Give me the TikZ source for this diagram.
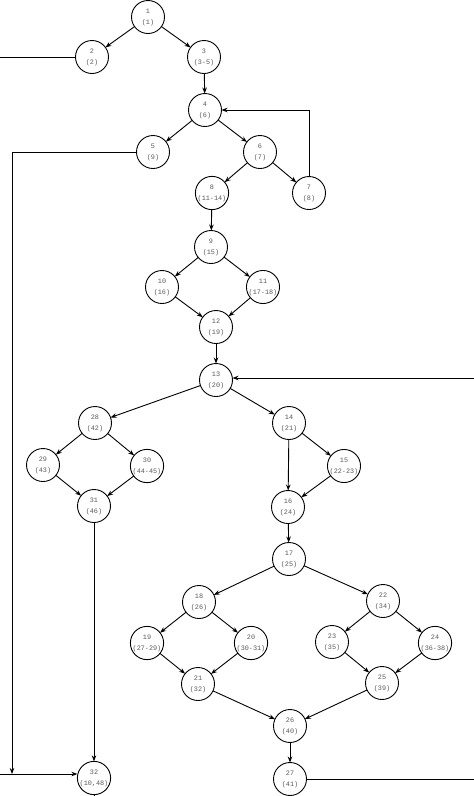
\documentclass[tikz,border=0pt]{standalone}
\usepackage{fontspec}
\setmonofont{Liberation Mono}
\usetikzlibrary{arrows.meta,calc}

\begin{document}
\begin{tikzpicture}[x=1pt,y=-1pt,line width=0.9pt,>={Stealth[length=6pt,width=4.5pt]},
    every node/.style={inner sep=0,outer sep=0},
    blk/.style={circle,draw,minimum size=33pt,align=center,
        font=\ttfamily\fontsize{6.8}{11}\selectfont,text=black!65}]
    \useasboundingbox (0,0) rectangle (474,796);
    \node[blk](b1)  at (148,17)  {1\\(1)};
    \node[blk](b2)  at (92,57)   {2\\(2)};
    \node[blk](b3)  at (204,57)  {3\\(3-5)};
    \node[blk](b4)  at (205,110) {4\\(6)};
    \node[blk](b5)  at (153,152) {5\\(9)};
    \node[blk](b6)  at (260,152) {6\\(7)};
    \node[blk](b7)  at (309,193) {7\\(8)};
    \node[blk](b8)  at (212,193) {8\\(11-14)};
    \node[blk](b9)  at (211,247) {9\\(15)};
    \node[blk](b10) at (162,287) {10\\(16)};
    \node[blk](b11) at (263,287) {11\\(17-18)};
    \node[blk](b12) at (216,327) {12\\(19)};
    \node[blk](b13) at (216,380) {13\\(20)};
    \node[blk](b14) at (289,423) {14\\(21)};
    \node[blk](b15) at (344,466) {15\\(22-23)};
    \node[blk](b16) at (288,507) {16\\(24)};
    \node[blk](b17) at (289,559) {17\\(25)};
    \node[blk](b18) at (199,602) {18\\(26)};
    \node[blk](b19) at (147,643) {19\\(27-29)};
    \node[blk](b20) at (251,643) {20\\(30-31)};
    \node[blk](b21) at (198,684) {21\\(32)};
    \node[blk](b22) at (383,601) {22\\(34)};
    \node[blk](b23) at (332,642) {23\\(35)};
    \node[blk](b24) at (435,643) {24\\(36-38)};
    \node[blk](b25) at (382,683) {25\\(39)};
    \node[blk](b26) at (290,726) {26\\(40)};
    \node[blk](b27) at (290,779) {27\\(41)};
    \node[blk](b28) at (95,423)  {28\\(42)};
    \node[blk](b29) at (43,465)  {29\\(43)};
    \node[blk](b30) at (147,466) {30\\(44-45)};
    \node[blk](b31) at (94,506)  {31\\(46)};
    \node[blk](b32) at (94,778)  {32\\(10,48)};
    % loose ends at the borders
    \coordinate(top1)  at (148,-20);
    \coordinate(out2)  at (0,57);
    \coordinate(low5)  at (12,774);
    \coordinate(in32)  at (0,774);
    \coordinate(in13)  at (480,378);
    \coordinate(out27) at (480,779);
    \coordinate(bot27) at (290,820);
    \coordinate(bot32) at (94,820);
    \draw[->] (top1)--(b1);
    \draw[->] (b1)--(b2);
    \draw[->] (b1)--(b3);
    \draw (b2)--(out2);
    \draw[->] (b3)--(b4);
    \draw[->] (b4)--(b5);
    \draw[->] (b4)--(b6);
    \draw[->] (b6)--(b8);
    \draw[->] (b6)--(b7);
    \draw[->] (b7) |- (b4);
    \draw[->] (b5) -| (low5);
    \draw[->] (in32)--(in32 -| b32.west);
    \draw[->] (b8)--(b9);
    \draw[->] (b9)--(b10);
    \draw[->] (b9)--(b11);
    \draw[->] (b10)--(b12);
    \draw[->] (b11)--(b12);
    \draw[->] (b12)--(b13);
    \draw[->] (in13)--(in13 -| b13.east);
    \draw[->] (b13)--(b28);
    \draw[->] (b13)--(b14);
    \draw[->] (b28)--(b29);
    \draw[->] (b28)--(b30);
    \draw[->] (b29)--(b31);
    \draw[->] (b30)--(b31);
    \draw[->] (b31)--(b32);
    \draw[->] (b14)--(b16);
    \draw[->] (b14)--(b15);
    \draw[->] (b15)--(b16);
    \draw[->] (b16)--(b17);
    \draw[->] (b17)--(b18);
    \draw[->] (b17)--(b22);
    \draw[->] (b18)--(b19);
    \draw[->] (b18)--(b20);
    \draw[->] (b19)--(b21);
    \draw[->] (b20)--(b21);
    \draw[->] (b22)--(b23);
    \draw[->] (b22)--(b24);
    \draw[->] (b23)--(b25);
    \draw[->] (b24)--(b25);
    \draw[->] (b21)--(b26);
    \draw[->] (b25)--(b26);
    \draw[->] (b26)--(b27);
    \draw (b27)--(out27);
    \draw (b27)--(bot27);
    \draw (b32)--(bot32);
\end{tikzpicture}
\end{document}
